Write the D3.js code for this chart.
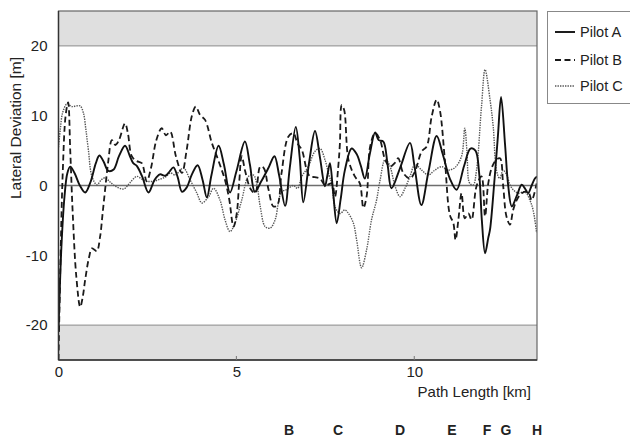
<!DOCTYPE html>
<html>
<head>
<meta charset="utf-8">
<script src="https://cdn.jsdelivr.net/npm/d3@7"></script>
<style>
  html, body { margin: 0; padding: 0; background: #fff; }
  svg { display: block; font-family: "Liberation Sans", Arial, sans-serif; }
</style>
</head>
<body>
<svg id="chart" width="630" height="438"></svg>
<script>
// ---------------- data ----------------
const xTicks = [0, 5, 10];
const yTicks = [-20, -10, 0, 10, 20];
const seriesNames = ["Pilot A", "Pilot B", "Pilot C"];
const waypoints = ["B", "C", "D", "E", "F", "G", "H"];

const pilotA = [[0,-21],[0.08,-9],[0.17,-1.5],[0.25,1.8],[0.33,2.7],[0.45,1.8],[0.6,0],[0.75,-1],[0.9,0.5],[1.05,3.2],[1.15,4.3],[1.27,3.4],[1.4,2.1],[1.55,2.3],[1.7,4.2],[1.87,5.7],[2.0,4.3],[2.1,3.2],[2.2,2.8],[2.35,1.3],[2.53,-1.0],[2.7,0.8],[2.85,1.6],[3.0,1.4],[3.12,2.0],[3.23,2.6],[3.35,1.2],[3.47,-0.9],[3.6,-0.3],[3.75,1.6],[3.91,2.9],[4.05,0.8],[4.17,-1.7],[4.3,1.5],[4.5,5.7],[4.65,3.0],[4.82,-1.0],[5.0,2.0],[5.24,6.3],[5.38,3.0],[5.52,-0.9],[5.7,0.6],[5.9,2.5],[6.07,4.2],[6.2,1.5],[6.37,-2.9],[6.5,2.5],[6.67,8.4],[6.78,4.0],[6.88,-2.4],[7.05,3.5],[7.21,7.8],[7.35,4.0],[7.49,-0.1],[7.56,1.5],[7.63,3.2],[7.72,-1.0],[7.82,-5.4],[7.93,-2.0],[8.05,2.2],[8.24,5.3],[8.38,4.5],[8.5,2.8],[8.61,1.0],[8.75,4.5],[8.9,7.6],[9.0,6.5],[9.13,6.3],[9.25,3.0],[9.36,-0.4],[9.6,2.5],[9.88,6.1],[10.0,3.0],[10.2,-2.8],[10.4,2.0],[10.63,7.1],[10.8,4.5],[11.0,1.0],[11.19,-0.6],[11.4,2.8],[11.58,5.3],[11.72,5.0],[11.82,2.0],[11.9,-5],[11.99,-9.7],[12.08,-7.5],[12.13,-6.3],[12.25,0.5],[12.35,7.0],[12.44,12.7],[12.55,6.0],[12.64,0],[12.74,-3.0],[12.88,-1.5],[13.02,0.1],[13.12,-0.5],[13.2,-1.1],[13.3,0],[13.39,1.0],[13.45,1.3]];

const pilotB = [[0,-25],[0.05,-12],[0.12,2],[0.2,10],[0.27,11.9],[0.33,5],[0.4,-4],[0.5,-13],[0.61,-17.4],[0.68,-16],[0.75,-13.5],[0.85,-10.5],[0.94,-9.0],[1.01,-9.2],[1.08,-9.4],[1.17,-7.3],[1.24,-4],[1.31,-0.6],[1.4,3.5],[1.5,6.5],[1.6,5.8],[1.7,6.5],[1.87,8.9],[1.95,7.5],[2.06,4.2],[2.2,3.5],[2.34,3.2],[2.48,0.6],[2.6,2.5],[2.75,6.5],[2.9,8.2],[3.02,7.2],[3.14,7.7],[3.3,4.2],[3.47,1.8],[3.6,5],[3.75,10],[3.86,11.3],[3.98,10.1],[4.12,9.4],[4.31,6.1],[4.45,4.2],[4.59,2.2],[4.68,0.8],[4.8,-2],[4.92,-5.9],[5.01,-4.0],[5.08,0.5],[5.15,4.2],[5.25,2],[5.4,-0.5],[5.53,-1.1],[5.67,2.7],[5.77,2.5],[5.9,-0.5],[6.04,-3.0],[6.15,-2.8],[6.27,1.8],[6.46,7.0],[6.6,7.5],[6.72,6.0],[6.84,5.1],[6.98,2.2],[7.07,1.3],[7.2,1.2],[7.35,1.0],[7.5,0],[7.68,0.3],[7.77,-1.6],[7.86,2.5],[7.91,6],[7.96,11.5],[8.03,10.8],[8.15,3.7],[8.33,1.3],[8.47,0.3],[8.57,-3.2],[8.66,-1.6],[8.76,5.6],[8.9,7.5],[9.04,6.5],[9.18,3.7],[9.32,2.7],[9.45,3.2],[9.55,3.9],[9.69,1.8],[9.88,1.0],[10.02,2.0],[10.21,4.9],[10.35,5.6],[10.49,9.9],[10.63,12.3],[10.72,10.8],[10.86,3.7],[11.0,-4.2],[11.1,-5.4],[11.16,-7.8],[11.24,-4.9],[11.33,-1.1],[11.42,-4.7],[11.52,-4.0],[11.61,-4.9],[11.75,-0.1],[11.89,1.3],[11.99,-4.4],[12.08,0.3],[12.19,2.7],[12.31,3.7],[12.41,3.9],[12.5,-0.1],[12.59,-4.4],[12.69,-5.6],[12.78,-3.5],[12.88,-2.1],[13.02,-1.1],[13.2,-0.9],[13.3,-2.1],[13.44,0.3]];

const pilotC = [[0,5.5],[0.05,8],[0.12,10.5],[0.24,11.7],[0.38,11.3],[0.5,11.4],[0.61,11.4],[0.7,10.4],[0.77,8],[0.84,5.1],[0.94,1.3],[1.08,0.1],[1.2,0.8],[1.31,1.1],[1.45,0.5],[1.6,-0.1],[1.83,-0.5],[2.01,0.4],[2.2,1.3],[2.35,0.9],[2.5,0.6],[2.67,0.6],[2.85,0.9],[3.0,1.2],[3.15,1.8],[3.28,1.5],[3.51,2.5],[3.7,0.8],[3.89,-1.1],[4.03,-2.5],[4.22,-1.6],[4.36,-0.4],[4.54,-2.1],[4.68,-4.9],[4.82,-6.6],[4.96,-5.4],[5.15,-2.1],[5.34,1.3],[5.48,1.5],[5.57,0.3],[5.67,-3.0],[5.81,-5.9],[5.95,-6.1],[6.09,-4.9],[6.18,-2.5],[6.27,-0.9],[6.41,-0.6],[6.6,0],[6.72,-0.4],[6.84,1.3],[7.02,2.7],[7.21,4.9],[7.35,5.3],[7.49,3.7],[7.6,1.5],[7.68,0.3],[7.77,-3.0],[7.91,-4.0],[8.05,-3.5],[8.15,-4.0],[8.29,-5.4],[8.38,-7.8],[8.52,-11.8],[8.66,-9.2],[8.8,-4.9],[8.94,-2.1],[9.04,0.8],[9.18,3.7],[9.3,3.0],[9.46,-0.1],[9.6,-1.6],[9.74,-0.4],[9.88,1.3],[10.02,3.0],[10.21,2.2],[10.39,1.5],[10.58,2.2],[10.77,2.7],[10.95,2.2],[11.15,2.6],[11.33,4.2],[11.42,8.2],[11.48,5],[11.56,0.3],[11.66,0.1],[11.75,2.2],[11.89,11.3],[11.99,16.6],[12.13,12.3],[12.22,8.4],[12.31,2.2],[12.4,1.0],[12.5,2.2],[12.6,1.5],[12.69,0.1],[12.78,-0.6],[12.92,-1.1],[13.11,-0.9],[13.25,-2.1],[13.34,-3.5],[13.44,-6.8]];

const xDomain = [0, 13.45];
const yDomain = [-25, 25];
const limitBand = 20;

// ---------------- layout ----------------
const svg = d3.select("#chart");
const L = 58.5, R = 537, T = 11, B = 360;
const x = d3.scaleLinear().domain(xDomain).range([L, R]);
const y = d3.scaleLinear().domain(yDomain).range([B, T]);
const fmt = d => String(d);   // plain hyphen-minus like the reference

svg.append("rect").attr("width", 630).attr("height", 438).attr("fill", "#fff");

// grey bands beyond +/-20 m
svg.append("rect").attr("x", x(xDomain[0])).attr("y", y(yDomain[1]))
  .attr("width", x(xDomain[1]) - x(xDomain[0])).attr("height", y(limitBand) - y(yDomain[1]))
  .attr("fill", "#dfdfdf");
svg.append("rect").attr("x", x(xDomain[0])).attr("y", y(-limitBand))
  .attr("width", x(xDomain[1]) - x(xDomain[0])).attr("height", y(yDomain[0]) - y(-limitBand))
  .attr("fill", "#dfdfdf");
[limitBand, -limitBand].forEach(v => {
  svg.append("line").attr("x1", x(xDomain[0])).attr("x2", x(xDomain[1]))
    .attr("y1", y(v)).attr("y2", y(v)).attr("stroke", "#8a8a8a").attr("stroke-width", 1);
});

// clip
svg.append("clipPath").attr("id", "clip").append("rect")
  .attr("x", L).attr("y", T).attr("width", R - L).attr("height", B - T);

// zero line
svg.append("line").attr("x1", x(xDomain[0])).attr("x2", x(xDomain[1]))
  .attr("y1", y(0)).attr("y2", y(0)).attr("stroke", "#6e6e6e").attr("stroke-width", 1.3);

const line = d3.line().x(d => x(d[0])).y(d => y(d[1])).curve(d3.curveCatmullRom.alpha(0.5));
const g = svg.append("g").attr("clip-path", "url(#clip)");

const styles = [
  { data: pilotC, stroke: "#555", width: 1.4, dash: "1.4,1.1" },
  { data: pilotB, stroke: "#1a1a1a", width: 1.8, dash: "6,3.5" },
  { data: pilotA, stroke: "#111", width: 1.9, dash: null }
];
styles.forEach(s => {
  g.append("path").datum(s.data).attr("d", line)
    .attr("fill", "none").attr("stroke", s.stroke).attr("stroke-width", s.width)
    .attr("stroke-dasharray", s.dash).attr("stroke-linejoin", "round");
});

// frame
svg.append("rect").attr("x", L).attr("y", T).attr("width", R - L).attr("height", B - T)
  .attr("fill", "none").attr("stroke", "#666").attr("stroke-width", 1.2);
svg.append("line").attr("x1", L).attr("x2", L).attr("y1", T).attr("y2", B).attr("stroke", "#333").attr("stroke-width", 1.4);
svg.append("line").attr("x1", L).attr("x2", R).attr("y1", B).attr("y2", B).attr("stroke", "#333").attr("stroke-width", 1.4);

// axes
const xAxis = d3.axisBottom(x).tickValues(xTicks).tickSize(0).tickPadding(0).tickFormat(fmt);
const xg = svg.append("g").attr("transform", `translate(0,${B})`).call(xAxis);
xg.select(".domain").remove();
xg.selectAll("text").attr("font-size", 15).attr("fill", "#222").attr("dy", "1.15em")
  .attr("font-family", "Liberation Sans, Arial, sans-serif");
xTicks.filter(v => v > 0).forEach(v => {
  svg.append("line").attr("x1", x(v)).attr("x2", x(v)).attr("y1", B).attr("y2", B - 4)
    .attr("stroke", "#777").attr("stroke-width", 1);
});

const yAxis = d3.axisLeft(y).tickValues(yTicks).tickSize(0).tickPadding(11).tickFormat(fmt);
const yg = svg.append("g").attr("transform", `translate(${L},0)`).call(yAxis);
yg.select(".domain").remove();
yg.selectAll("text").attr("font-size", 15).attr("fill", "#222")
  .attr("font-family", "Liberation Sans, Arial, sans-serif");

// axis titles
svg.append("text").attr("x", 531).attr("y", 397).attr("text-anchor", "end")
  .attr("font-size", 15).attr("fill", "#222").text("Path Length [km]");
svg.append("text").attr("transform", "translate(21,128) rotate(-90)").attr("text-anchor", "middle")
  .attr("font-size", 15.5).attr("fill", "#222").text("Lateral Deviation [m]");

// waypoint letters
const wpX = [289, 338, 400, 452, 487, 506, 537];
waypoints.forEach((w, i) => {
  svg.append("text").attr("x", wpX[i]).attr("y", 435).attr("text-anchor", "middle")
    .attr("font-size", 14).attr("font-weight", "bold").attr("fill", "#222").text(w);
});

// legend
svg.append("rect").attr("x", 547.5).attr("y", 11.5).attr("width", 90).attr("height", 92)
  .attr("fill", "#fff").attr("stroke", "#888").attr("stroke-width", 1);
const legY = [32, 60, 86];
[styles[2], styles[1], styles[0]].forEach((s, i) => {
  svg.append("line").attr("x1", 555).attr("x2", 575).attr("y1", legY[i]).attr("y2", legY[i])
    .attr("stroke", s.stroke).attr("stroke-width", s.width).attr("stroke-dasharray", s.dash);
  svg.append("text").attr("x", 580).attr("y", legY[i] + 5).attr("font-size", 14.5)
    .attr("fill", "#222").text(seriesNames[i]);
});
</script>
</body>
</html>
